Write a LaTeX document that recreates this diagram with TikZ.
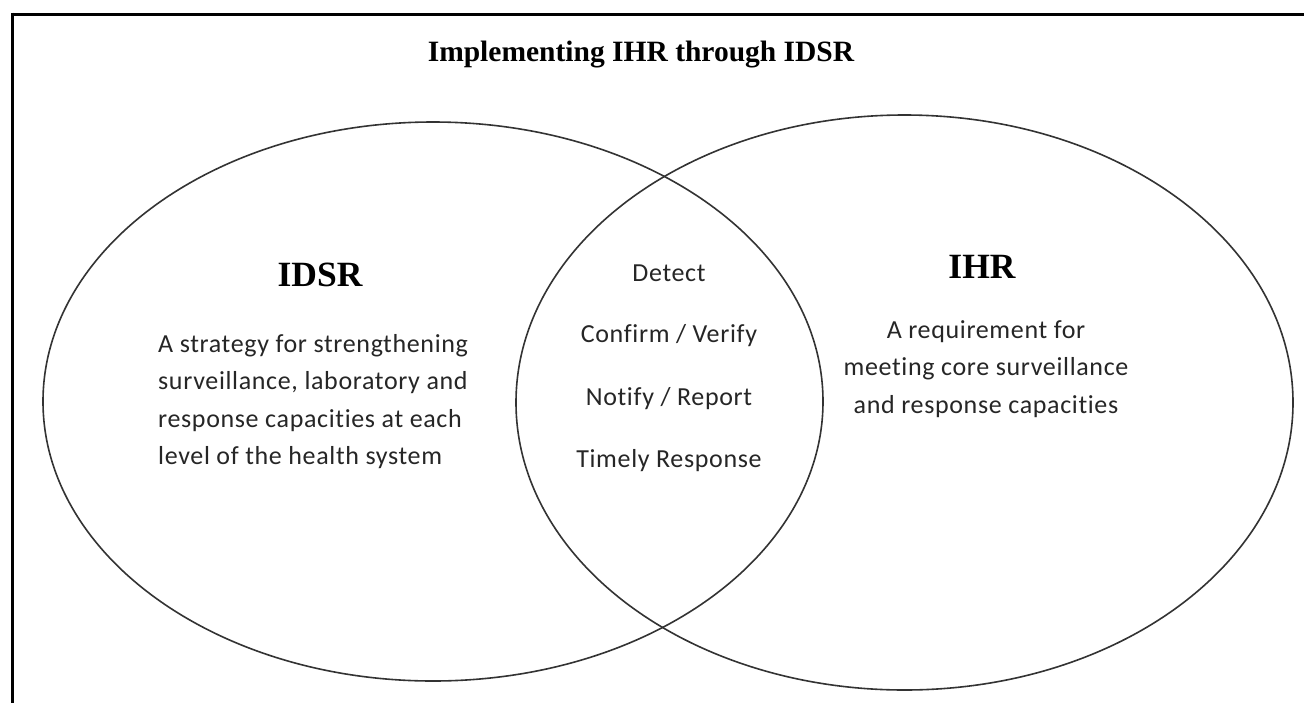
\documentclass[tikz,border=0pt]{standalone}
\usepackage{fontspec}
\setmainfont{Carlito}[Ligatures=NoCommon,LetterSpace=2.5]
\newfontfamily\serifbold{Liberation Serif}
\begin{document}
\begin{tikzpicture}[x=1pt,y=-1pt,
  frameline/.style={line width=3pt,black},
  vennline/.style={line width=1.6pt,black!80},
  bodytext/.style={inner sep=0pt,font=\fontsize{26}{37.6}\selectfont,text=black!85},
  headtext/.style={inner sep=0pt,font=\serifbold\bfseries\fontsize{35.5}{40}\selectfont},
  titletext/.style={inner sep=0pt,font=\serifbold\bfseries\fontsize{29.5}{32}\selectfont}]
\useasboundingbox (0,0) rectangle (1304,702);
\fill[white] (0,0) rectangle (1304,702);
% frame (top and left edges visible)
\draw[frameline] (12,14) -- (1306,14);
\draw[frameline] (12,12.5) -- (12,704);
% circles
\draw[vennline] (433,401.5) ellipse [x radius=390, y radius=279.5];
\draw[vennline] (904.5,402.5) ellipse [x radius=388.5, y radius=287.5];
% texts
\node[titletext] (title) at (641,55) {Implementing IHR through IDSR};
\node[headtext] (idsr) at (320,275) {IDSR};
\node[headtext] (ihr) at (982,267) {IHR};
\node[bodytext,align=left,anchor=west] (idsrbody) at (158,401.5)
  {A strategy for strengthening\\surveillance, laboratory and\\response capacities at each\\level of the health system};
\node[bodytext,align=center] (ihrbody) at (986,369)
  {A requirement for\\meeting core surveillance\\and response capacities};
\node[bodytext] (detect) at (669,273) {Detect};
\node[bodytext] (confirm) at (669,336) {Confirm / Verify};
\node[bodytext] (notify) at (669,399) {Notify / Report};
\node[bodytext] (timely) at (669,461) {Timely Response};
\end{tikzpicture}
\end{document}
